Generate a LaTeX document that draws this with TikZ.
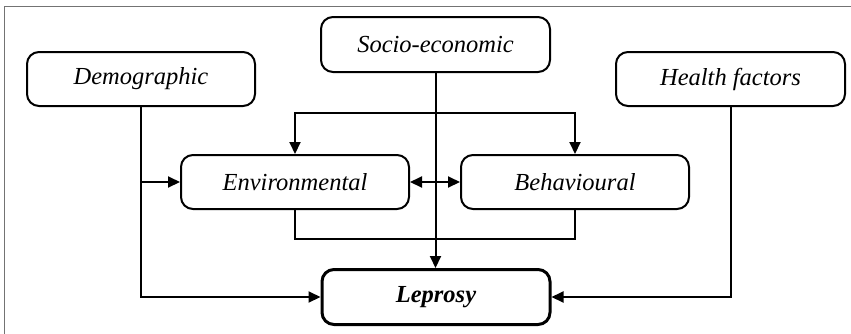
\documentclass[tikz,border=0pt]{standalone}
\usepackage{fontspec}
\setmainfont{Liberation Serif}
\usetikzlibrary{arrows.meta}
\begin{document}
\begin{tikzpicture}[x=1pt,y=-1pt,
  box/.style={draw=black,line width=2pt,rounded corners=12pt,minimum width=228pt,minimum height=54pt,inner sep=0pt,
    font=\fontsize{24.5}{28}\selectfont\itshape},
  mainbox/.style={box,line width=3pt,font=\fontsize{24.5}{28}\selectfont\bfseries\itshape},
  link/.style={line width=2pt,draw=black},
  arr/.style={link,-{Triangle[length=12pt,width=11pt]}},
  arrb/.style={link,{Triangle[length=12pt,width=11pt]}-{Triangle[length=12pt,width=11pt]}},
  frame/.style={draw=black!55,line width=1.5pt}]
\useasboundingbox (0,0) rectangle (851,333);
\draw[frame] (4.5,340) -- (4.5,6.5) -- (860,6.5);

\node[box] (demo) at (141,79) {Demographic};
\node[box,minimum width=229pt,minimum height=55pt] (socio) at (435.5,44.5) {Socio-economic};
\node[box,minimum width=229pt] (hf) at (730.5,79) {Health factors};
\node[box] (env) at (295,182) {Environmental};
\node[box] (beh) at (575,182) {Behavioural};
\node[mainbox,minimum height=55pt] (lep) at (436,297) {Leprosy};

\coordinate (tb) at (435.5,113);
\coordinate (bb) at (435.5,239);

\draw[arr] (demo.south) |- (lep.west);
\draw[arr] (demo.south |- env.west) -- (env.west);
\draw[arr] (socio.south) -- (socio.south |- lep.north);
\draw[arr] (tb) -| (env.north);
\draw[arr] (tb) -| (beh.north);
\draw[arrb] (env.east) -- (beh.west);
\draw[link] (env.south) |- (bb) -| (beh.south);
\draw[arr] (hf.south) |- (lep.east);
\end{tikzpicture}
\end{document}
